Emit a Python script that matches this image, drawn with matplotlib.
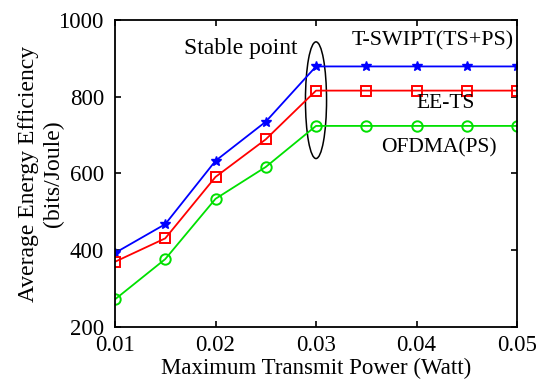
import matplotlib
matplotlib.use("Agg")
import matplotlib.pyplot as plt
from matplotlib.patches import Ellipse

plt.rcParams['font.family'] = ['Liberation Serif', 'DejaVu Serif']

power = [0.01, 0.015, 0.02, 0.025, 0.03, 0.035, 0.04, 0.045, 0.05]
tswipt = [393, 468, 633, 735, 879, 879, 879, 879, 879]
eets = [370, 431, 591, 689, 816, 816, 816, 816, 816]
ofdma = [272, 377, 534, 617, 724, 724, 724, 724, 724]

fig = plt.figure(figsize=(5.41, 3.92), dpi=100)
ax = fig.add_axes([115 / 541, 1 - 327 / 392, 402 / 541, 307 / 392])

ax.plot(power, tswipt, color='#0000ff', marker='*', markersize=7, lw=1.3)
ax.plot(power, eets, color='#ff0000', marker='s', markersize=7.5, mfc='none', mew=1.4, lw=1.3)
ax.plot(power, ofdma, color='#00e000', marker='o', markersize=7.5, mfc='none', mew=1.4, lw=1.3)

ax.add_patch(Ellipse((0.03, 791), 0.0021, 304, fill=False, ec='black', lw=1.1))

ax.text(0.02254, 927, 'Stable point', fontsize=17, ha='center', va='center')
ax.text(0.04164, 946, 'T-SWIPT(TS+PS)', fontsize=15.8, ha='center', va='center')
ax.text(0.04294, 783, 'EE-TS', fontsize=15.5, ha='center', va='center')
ax.text(0.04224, 666, 'OFDMA(PS)', fontsize=15.5, ha='center', va='center')

ax.set_xlim(0.01, 0.05)
ax.set_ylim(200, 1000)
ax.set_xticks([0.01, 0.02, 0.03, 0.04, 0.05])
ax.set_yticks([200, 400, 600, 800, 1000])
ax.tick_params(direction='in', top=True, right=True, labelsize=16.5, length=4, width=1.2)
ax.tick_params(axis='x', pad=6)
ax.tick_params(axis='y', pad=8)
for s in ax.spines.values():
    s.set_linewidth(1.3)

ax.set_xlabel('Maximum Transmit Power (Watt)', fontsize=16.5, labelpad=1)
ax.set_ylabel('Average Energy Efficiency\n(bits/Joule)', fontsize=17, labelpad=-4, linespacing=1.25)

fig.savefig('out.png', dpi=100)
